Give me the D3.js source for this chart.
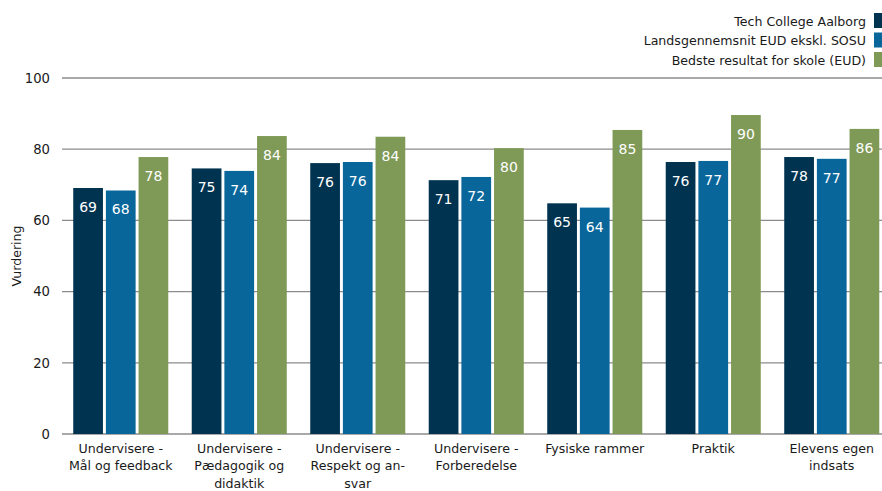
<!DOCTYPE html>
<html><head><meta charset="utf-8">
<script src="https://cdn.jsdelivr.net/npm/d3@7"></script>
<style>
html,body{margin:0;padding:0;background:#fff;}
svg text{font-family:"DejaVu Sans",Verdana,sans-serif;}
</style></head>
<body>
<svg id="c" width="882" height="491"></svg>
<script>
const categories = [
  ["Undervisere -","Mål og feedback"],
  ["Undervisere -","Pædagogik og","didaktik"],
  ["Undervisere -","Respekt og an-","svar"],
  ["Undervisere -","Forberedelse"],
  ["Fysiske rammer"],
  ["Praktik"],
  ["Elevens egen","indsats"]
];
const seriesNames = ["Tech College Aalborg","Landsgennemsnit EUD ekskl. SOSU","Bedste resultat for skole (EUD)"];
const seriesTech = [69.1, 74.6, 76.1, 71.3, 64.8, 76.4, 77.8];
const seriesLands = [68.4, 73.9, 76.4, 72.2, 63.6, 76.7, 77.3];
const seriesBest  = [77.8, 83.7, 83.5, 80.3, 85.4, 89.6, 85.7];
const yTicks = [0,20,40,60,80,100];
const colors = ["#003350","#08669a","#7f9a57"];

const series = [seriesTech, seriesLands, seriesBest];
const svg = d3.select("#c");
const x0 = d3.scaleBand().domain(d3.range(categories.length)).range([61.5, 891]).paddingInner(0.198).paddingOuter(0.099);
const x1 = d3.scaleBand().domain(d3.range(3)).range([0, x0.bandwidth()]).paddingInner(0.09);
const y = d3.scaleLinear().domain([0,100]).range([434,78]);
const FS = 12.6;

// grid
const grid = svg.append("g");
grid.selectAll("line").data(yTicks).join("line")
  .attr("x1",62).attr("x2",882).attr("y1",d=>y(d)).attr("y2",d=>y(d))
  .attr("stroke","#8c8c8c").attr("stroke-width",1.3);
const yAxis = d3.axisLeft(y).tickValues(yTicks).tickSize(0).tickPadding(12);
const ga = svg.append("g").attr("transform","translate(62,0)").call(yAxis);
ga.select(".domain").remove();
ga.selectAll("text").attr("font-size",13.2).attr("fill","#1a1a1a").attr("font-family","DejaVu Sans");

svg.append("text").attr("transform","translate(21,256) rotate(-90)")
  .attr("text-anchor","middle").attr("font-size",FS).attr("fill","#1a1a1a").text("Vurdering");

// bars
const groups = svg.append("g").selectAll("g").data(categories).join("g")
  .attr("transform",(d,i)=>`translate(${x0(i)},0)`);
groups.each(function(c,i){
  const g = d3.select(this);
  series.forEach((s,k)=>{
    g.append("rect").attr("x",x1(k)).attr("width",x1.bandwidth())
      .attr("y",y(s[i])).attr("height",y(0)-y(s[i])).attr("fill",colors[k]);
    g.append("text").attr("x",x1(k)+x1.bandwidth()/2).attr("y",y(s[i])+24)
      .attr("text-anchor","middle").attr("font-size",14).attr("fill","#fff")
      .text(Math.round(s[i]));
  });
});

// x labels
const xl = svg.append("g");
categories.forEach((lines,i)=>{
  const t = xl.append("text").attr("x",x0(i)+x0.bandwidth()/2).attr("text-anchor","middle")
    .attr("font-size",FS).attr("fill","#1a1a1a");
  lines.forEach((ln,j)=>t.append("tspan").attr("x",x0(i)+x0.bandwidth()/2).attr("y",452.5+j*17.8).text(ln));
});

// legend
const lg = svg.append("g");
seriesNames.forEach((n,k)=>{
  lg.append("rect").attr("x",874).attr("y",13+k*19.5).attr("width",14).attr("height",15).attr("fill",colors[k]);
  lg.append("text").attr("x",866).attr("y",25.5+k*19.5).attr("text-anchor","end")
    .attr("font-size",FS).attr("fill","#1a1a1a").text(n);
});
</script>
</body></html>
